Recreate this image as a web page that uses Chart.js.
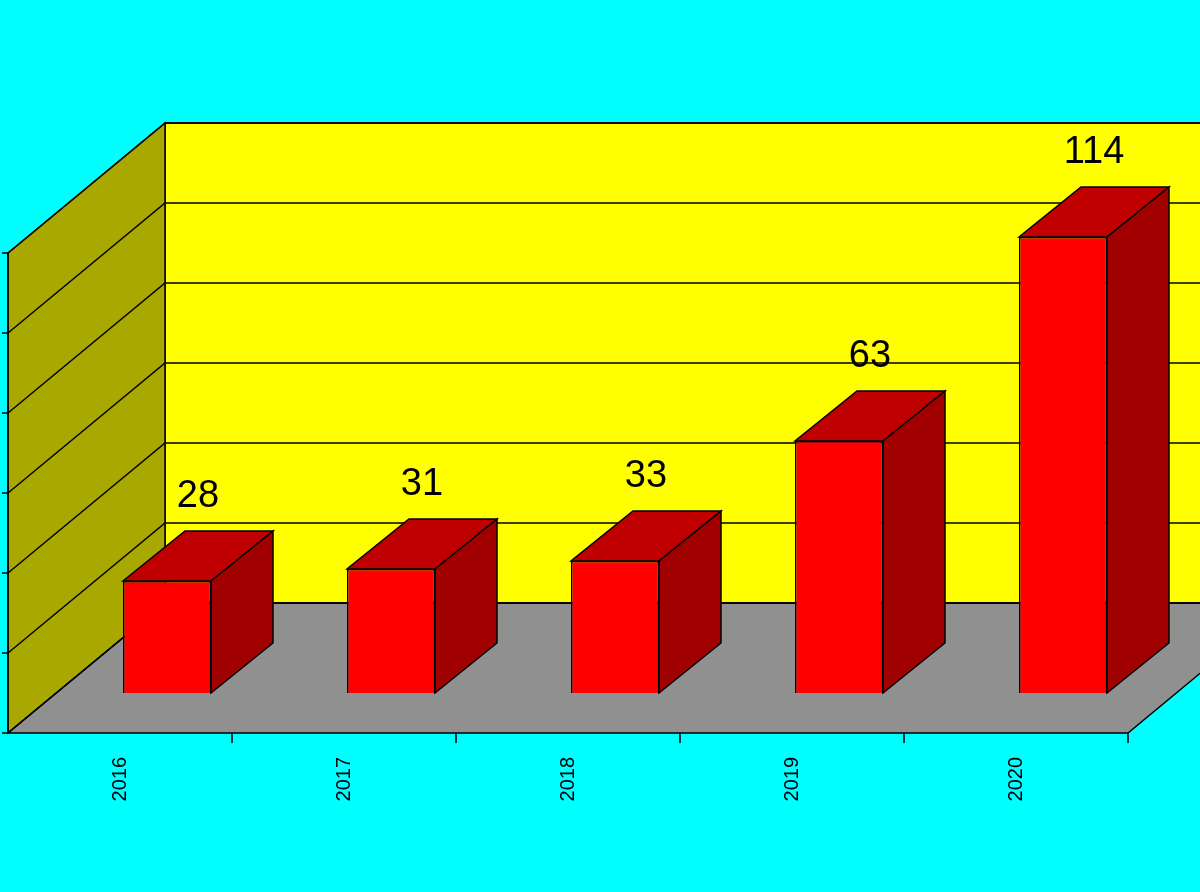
<!DOCTYPE html>
<html><head><meta charset="utf-8">
<script src="https://cdn.jsdelivr.net/npm/chart.js@4"></script>
<style>html,body{margin:0;padding:0;background:#00FFFF}#w{width:1200px;height:892px}</style>
</head><body><div id="w"><canvas id="c"></canvas></div>
<script>
const categories = ["2016","2017","2018","2019","2020"];
const values = [28, 31, 33, 63, 114];
const yTicks = [0,20,40,60,80,100,120];

// depth offsets relative to the bar front plane
const FRONT = {dx:-47, dy:40}, BACK = {dx:110, dy:-90}, BARD = {dx:62, dy:-50};

const scene = {
  id:'scene',
  beforeDatasetsDraw(chart){
    const c = chart.ctx, x = chart.scales.x, y = chart.scales.y;
    const L = chart.chartArea.left, R = chart.chartArea.right;
    const y0 = y.getPixelForValue(0), yT = y.getPixelForValue(120);
    c.save();
    c.fillStyle='#00FFFF'; c.fillRect(0,0,chart.width,chart.height);
    c.strokeStyle='#000'; c.lineWidth=1.5;
    const poly=(pts,fill)=>{c.beginPath();pts.forEach((p,i)=>i?c.lineTo(p[0],p[1]):c.moveTo(p[0],p[1]));c.closePath();c.fillStyle=fill;c.fill();c.stroke();};
    const fl=L+FRONT.dx, fr=R+FRONT.dx, bl=L+BACK.dx, br=R+BACK.dx+200;
    // back wall
    poly([[bl,y0+BACK.dy],[br,y0+BACK.dy],[br,yT+BACK.dy],[bl,yT+BACK.dy]],'#FFFF00');
    // left wall
    poly([[fl,y0+FRONT.dy],[bl,y0+BACK.dy],[bl,yT+BACK.dy],[fl,yT+FRONT.dy]],'#A8A800');
    // floor
    poly([[fl,y0+FRONT.dy],[fr,y0+FRONT.dy],[fr+(BACK.dx-FRONT.dx),y0+BACK.dy],[bl,y0+BACK.dy]],'#909090');
    // grid lines
    c.beginPath();
    yTicks.forEach(v=>{const p=y.getPixelForValue(v);
      c.moveTo(fl,p+FRONT.dy);c.lineTo(bl,p+BACK.dy);c.lineTo(chart.width+5,p+BACK.dy);
      c.moveTo(fl,p+FRONT.dy);c.lineTo(fl-6,p+FRONT.dy);});
    c.moveTo(fl,y0+FRONT.dy);c.lineTo(fl,yT+FRONT.dy);
    // x ticks
    const step=(R-L)/categories.length;
    for(let i=1;i<=categories.length;i++){const px=L+step*i+FRONT.dx;c.moveTo(px,y0+FRONT.dy);c.lineTo(px,y0+FRONT.dy+10);}
    c.stroke();
    // x labels
    c.fillStyle='#000';c.font='20px "Liberation Sans", Arial';c.textAlign='right';c.textBaseline='middle';
    categories.forEach((t,i)=>{const px=x.getPixelForValue(i)+FRONT.dx;c.save();c.translate(px,y0+FRONT.dy+24);c.rotate(-Math.PI/2);c.fillText(t,0,0);c.restore();});
    c.restore();
  },
  afterDatasetsDraw(chart){
    const c=chart.ctx, meta=chart.getDatasetMeta(0);
    c.save();c.strokeStyle='#000';c.lineWidth=1.5;
    meta.data.forEach((b,i)=>{
      const l=b.x-b.width/2, r=b.x+b.width/2, t=b.y, bt=b.base;
      const poly=(pts,fill)=>{c.beginPath();pts.forEach((p,j)=>j?c.lineTo(p[0],p[1]):c.moveTo(p[0],p[1]));c.closePath();c.fillStyle=fill;c.fill();c.stroke();};
      poly([[l,t],[r,t],[r+BARD.dx,t+BARD.dy],[l+BARD.dx,t+BARD.dy]],'#C00000');
      poly([[r,t],[r+BARD.dx,t+BARD.dy],[r+BARD.dx,bt+BARD.dy],[r,bt]],'#A00000');
      c.fillStyle='#000';c.font='38px "Liberation Sans", Arial';c.textAlign='center';c.textBaseline='middle';
      c.fillText(String(values[i]),b.x+31,t-84);
    });
    c.restore();
  }
};

new Chart(document.getElementById('c'),{
  type:'bar',
  data:{labels:categories,datasets:[{data:values,backgroundColor:'#FF0000',borderColor:'#000',borderWidth:1.5,barPercentage:88/224,categoryPercentage:1}]},
  options:{responsive:true,maintainAspectRatio:false,animation:false,
    layout:{padding:{left:55,right:25,top:213,bottom:199}},
    plugins:{legend:{display:false},tooltip:{enabled:false}},
    scales:{x:{display:false},y:{display:false,min:0,max:120}}},
  plugins:[scene]
});
</script></body></html>
